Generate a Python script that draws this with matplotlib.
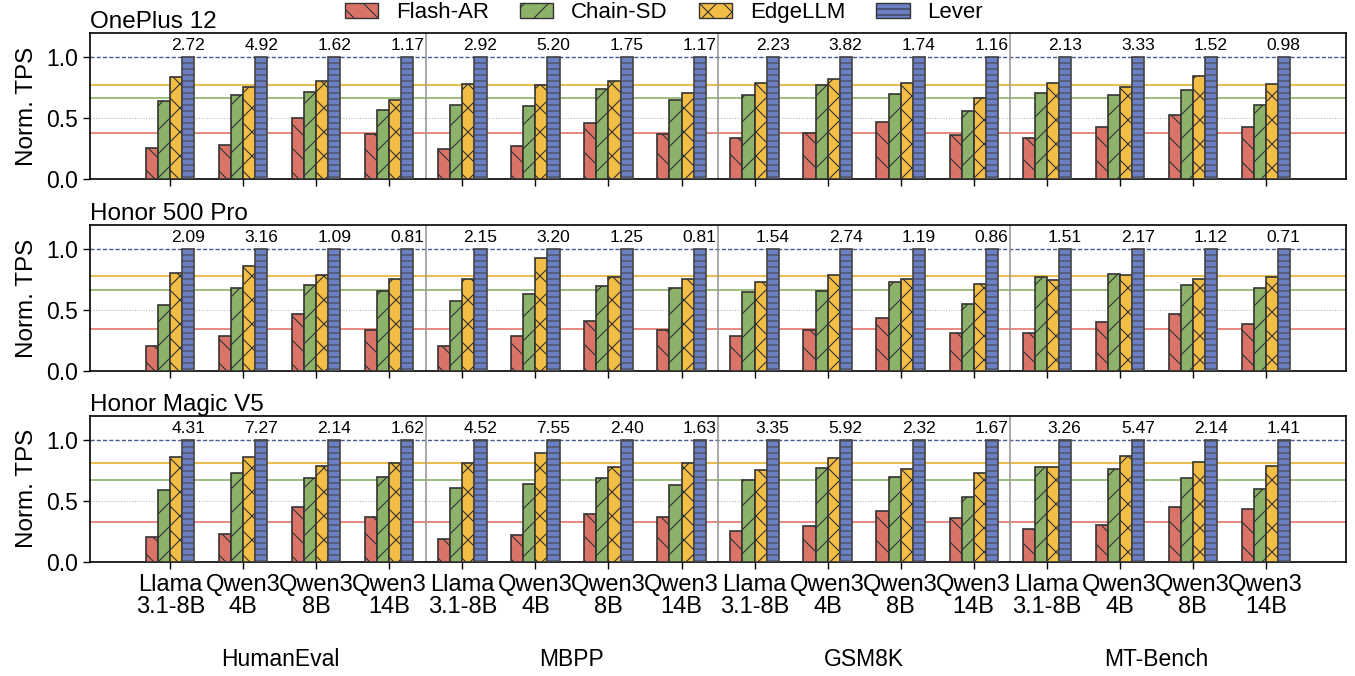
import numpy as np
import matplotlib
matplotlib.use("Agg")
import matplotlib.pyplot as plt
from matplotlib.patches import Patch
from matplotlib.transforms import blended_transform_factory

# figure is drawn at 72 dpi so that hatch spacing matches the reference;
# S converts sizes that were tuned for 100 dpi
S = 100 / 72

plt.rcParams.update({
    "font.family": ["Liberation Sans", "DejaVu Sans"],
    "font.size": 16 * S,
    "hatch.linewidth": 0.8 * S,
    "axes.linewidth": 1.2 * S,
})

# =========================
# DATA
# =========================

devices = ["OnePlus 12", "Honor 500 Pro", "Honor Magic V5"]
methods = ["Flash-AR", "Chain-SD", "EdgeLLM", "Lever"]
models = ["Llama\n3.1-8B", "Qwen3\n4B", "Qwen3\n8B", "Qwen3\n14B"]
datasets = ["HumanEval", "MBPP", "GSM8K", "MT-Bench"]

# normalized TPS (Lever = 1.0), 16 groups = 4 datasets x 4 models
flash_oneplus = [0.26, 0.28, 0.50, 0.37, 0.25, 0.27, 0.46, 0.37,
                 0.34, 0.38, 0.47, 0.36, 0.34, 0.43, 0.53, 0.43]
chain_oneplus = [0.64, 0.69, 0.72, 0.57, 0.61, 0.60, 0.74, 0.65,
                 0.69, 0.77, 0.70, 0.56, 0.71, 0.69, 0.73, 0.61]
edge_oneplus = [0.84, 0.76, 0.81, 0.65, 0.78, 0.77, 0.81, 0.71,
                0.79, 0.82, 0.79, 0.67, 0.79, 0.76, 0.85, 0.78]

flash_honor500 = [0.21, 0.29, 0.47, 0.34, 0.21, 0.29, 0.41, 0.34,
                  0.29, 0.34, 0.44, 0.31, 0.31, 0.40, 0.47, 0.39]
chain_honor500 = [0.54, 0.68, 0.71, 0.66, 0.58, 0.63, 0.70, 0.68,
                  0.65, 0.66, 0.73, 0.55, 0.77, 0.80, 0.71, 0.68]
edge_honor500 = [0.81, 0.86, 0.79, 0.76, 0.76, 0.93, 0.77, 0.76,
                 0.73, 0.79, 0.76, 0.72, 0.75, 0.79, 0.76, 0.77]

flash_magic = [0.20, 0.23, 0.45, 0.37, 0.19, 0.22, 0.39, 0.37,
               0.25, 0.29, 0.42, 0.36, 0.27, 0.30, 0.45, 0.43]
chain_magic = [0.59, 0.73, 0.69, 0.70, 0.61, 0.64, 0.69, 0.63,
               0.67, 0.77, 0.70, 0.53, 0.78, 0.76, 0.69, 0.60]
edge_magic = [0.86, 0.86, 0.79, 0.81, 0.81, 0.89, 0.78, 0.81,
              0.75, 0.85, 0.76, 0.73, 0.78, 0.87, 0.82, 0.79]

lever_norm = [1.0] * 16

# Lever absolute speedup labels
speedup_oneplus = ["2.72", "4.92", "1.62", "1.17", "2.92", "5.20", "1.75", "1.17",
                   "2.23", "3.82", "1.74", "1.16", "2.13", "3.33", "1.52", "0.98"]
speedup_honor500 = ["2.09", "3.16", "1.09", "0.81", "2.15", "3.20", "1.25", "0.81",
                    "1.54", "2.74", "1.19", "0.86", "1.51", "2.17", "1.12", "0.71"]
speedup_magic = ["4.31", "7.27", "2.14", "1.62", "4.52", "7.55", "2.40", "1.63",
                 "3.35", "5.92", "2.32", "1.67", "3.26", "5.47", "2.14", "1.41"]

panels = [
    (flash_oneplus, chain_oneplus, edge_oneplus, lever_norm, speedup_oneplus),
    (flash_honor500, chain_honor500, edge_honor500, lever_norm, speedup_honor500),
    (flash_magic, chain_magic, edge_magic, lever_norm, speedup_magic),
]

colors = ["#DA7468", "#8DB26A", "#F2BE46", "#6B80C4"]
edge_colors = ["#333333", "#333333", "#333333", "#444444"]
hatches = ["\\", "/", "x", "--"]
mean_colors = ["#E0695C", "#8DB26A", "#EBBE55"]
mean_widths = [1.1, 1.2, 1.5]

# =========================
# FIGURE
# =========================

fig = plt.figure(figsize=(1355 / 72, 676 / 72), dpi=72)

left, width = 0.0664, 0.927
bottoms = [0.735, 0.451, 0.169]
height = 0.216

x = np.arange(16)
w = 0.165
offsets = [-1.5 * w, -0.5 * w, 0.5 * w, 1.5 * w]

axes = []
for p, (device, series) in enumerate(zip(devices, panels)):
    ax = fig.add_axes([left, bottoms[p], width, height])
    axes.append(ax)

    for k in range(4):
        ax.bar(x + offsets[k], series[k], width=w, color=colors[k],
               edgecolor=edge_colors[k], linewidth=1.2 * S, hatch=hatches[k],
               zorder=3)

    # average lines of baselines
    for k in range(3):
        ax.axhline(np.mean(series[k]), color=mean_colors[k],
                   linewidth=mean_widths[k] * S, zorder=1)
    ax.axhline(1.0, color="#4A5B94", linewidth=1.0 * S,
               linestyle=(0, (3, 1.5)), zorder=1)
    ax.axhline(0.5, color="#BBBBBB", linewidth=0.8 * S,
               linestyle=(0, (1, 1.5)), zorder=0)

    for sep in [3.5, 7.5, 11.5]:
        ax.axvline(sep, color="#999999", linewidth=1.2 * S, zorder=2)

    for i in range(16):
        ax.text(x[i] + offsets[3], 1.035, series[4][i], ha="center", va="bottom",
                fontsize=12.5 * S)

    ax.set_xlim(-1.1, 16.1)
    ax.set_ylim(0, 1.2)
    ax.set_yticks([0.0, 0.5, 1.0])
    ax.set_yticklabels(["0.0", "0.5", "1.0"], fontsize=16.5 * S)
    ax.set_ylabel("Norm. TPS", fontsize=17.5 * S, labelpad=6 * S)
    ax.set_xticks(x)
    ax.tick_params(axis="both", direction="out", length=5 * S, width=1.0 * S,
                   pad=3.5 * S)
    if p < 2:
        ax.set_xticklabels([])
    else:
        ax.set_xticklabels(models * 4, fontsize=17 * S, linespacing=1.0)
    ax.set_title(device, loc="left", fontsize=17.5 * S, pad=3 * S)

# dataset labels under the bottom panel
trans = blended_transform_factory(axes[2].transData, fig.transFigure)
for d, name in enumerate(datasets):
    axes[2].text(4 * d + 1.5, 0.008, name, transform=trans, ha="center",
                 va="bottom", fontsize=16.5 * S)

handles = [Patch(facecolor=colors[k], edgecolor="#333333", hatch=hatches[k],
                 linewidth=1.0 * S, label=methods[k]) for k in range(4)]
fig.legend(handles=handles, loc="center", bbox_to_anchor=(0.49, 0.981), ncol=4,
           frameon=False, fontsize=16 * S, handlelength=1.5, handleheight=0.7,
           handletextpad=0.8, columnspacing=1.4, borderpad=0.1)

fig.savefig("out.png", dpi=72)
